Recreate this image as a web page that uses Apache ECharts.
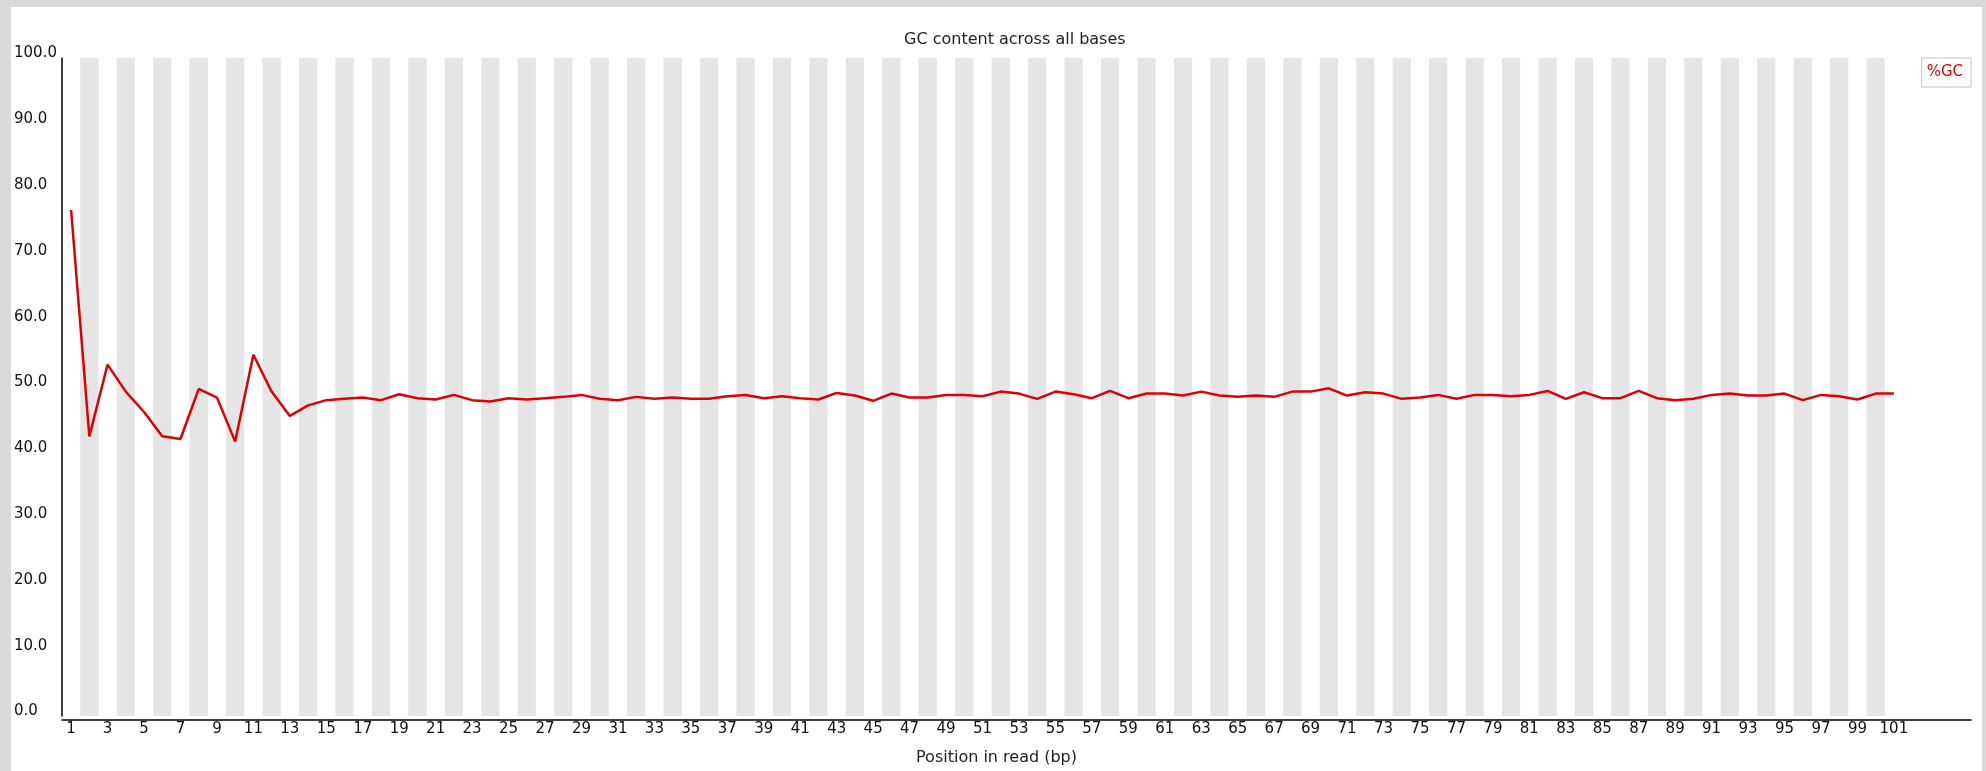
<!DOCTYPE html>
<html>
<head>
<meta charset="utf-8">
<script src="https://cdn.jsdelivr.net/npm/echarts@6/dist/echarts.min.js"></script>
<style>
html,body{margin:0;padding:0;background:#d9d9d9;width:1986px;height:771px;overflow:hidden;}
#chart{position:absolute;left:11px;top:7px;width:1971px;height:764px;background:#ffffff;}
</style>
</head>
<body>
<div id="chart"></div>
<script>
// ---- data ----
var titleText = 'GC content across all bases';
var xAxisName = 'Position in read (bp)';
var seriesName = '%GC';
var positions = Array.from({length: 101}, function (_, i) { return String(i + 1); });
var gcValues = [
  76.9, 42.5, 53.4, 49.3, 46.2, 42.5, 42.1, 49.7, 48.4, 41.7,
  54.9, 49.3, 45.6, 47.2, 48.0, 48.2, 48.4, 48.0, 48.9, 48.3,
  48.1, 48.8, 48.0, 47.8, 48.3, 48.1, 48.3, 48.5, 48.8, 48.2,
  48.0, 48.5, 48.2, 48.4, 48.2, 48.2, 48.6, 48.8, 48.3, 48.6,
  48.3, 48.1, 49.1, 48.7, 47.9, 49.0, 48.4, 48.4, 48.8, 48.8,
  48.6, 49.3, 49.0, 48.2, 49.3, 48.9, 48.3, 49.4, 48.3, 49.0,
  49.0, 48.7, 49.3, 48.7, 48.5, 48.7, 48.5, 49.3, 49.3, 49.8,
  48.7, 49.2, 49.0, 48.2, 48.4, 48.8, 48.2, 48.8, 48.8, 48.6,
  48.8, 49.4, 48.2, 49.2, 48.3, 48.3, 49.4, 48.3, 48.0, 48.2,
  48.8, 49.0, 48.7, 48.7, 49.0, 48.0, 48.8, 48.6, 48.1, 49.0,
  49.0
];
var yMin = 0, yMax = 100, yStep = 10;

// ---- chart ----
var chart = echarts.init(document.getElementById('chart'), null, {renderer: 'canvas'});
var FONT = 'DejaVu Sans';
chart.setOption({
  animation: false,
  backgroundColor: '#ffffff',
  title: {
    text: titleText,
    left: 893,
    top: 25,
    padding: 0,
    textStyle: {fontFamily: FONT, fontSize: 16, fontWeight: 'normal', color: '#222'}
  },
  legend: {
    data: [seriesName],
    right: 11,
    top: 51,
    icon: 'none',
    itemWidth: 0,
    itemHeight: 0,
    padding: [7, 8, 7, 0],
    borderColor: '#c4c4c4',
    borderWidth: 1,
    borderRadius: 0,
    textStyle: {fontFamily: FONT, fontSize: 15, color: '#e00000'}
  },
  grid: [
    {left: 51, right: 79, top: 51, bottom: 51, containLabel: false},
    {left: 51, right: 11, top: 51, bottom: 51, containLabel: false}
  ],
  xAxis: [
    {
      type: 'category',
      gridIndex: 0,
      data: positions,
      boundaryGap: true,
      axisLine: {show: false},
      axisTick: {show: false},
      axisLabel: {interval: 1, margin: 6, fontFamily: FONT, fontSize: 15, color: '#111'},
      splitLine: {show: false},
      splitArea: {show: true, interval: 0, areaStyle: {color: ['rgba(255,255,255,0)', '#e5e5e5']}},
      name: xAxisName,
      nameLocation: 'middle',
      nameGap: 34,
      nameTextStyle: {fontFamily: FONT, fontSize: 16, color: '#222', padding: [0, 0, 0, 28]}
    },
    {
      type: 'value',
      gridIndex: 1,
      min: 0,
      max: 1,
      axisLine: {show: true, lineStyle: {color: '#000', width: 1.5}},
      axisTick: {show: false},
      axisLabel: {show: false},
      splitLine: {show: false}
    }
  ],
  yAxis: [
    {
      type: 'value',
      gridIndex: 0,
      min: yMin,
      max: yMax,
      interval: yStep,
      axisLine: {show: true, lineStyle: {color: '#000', width: 1.5}},
      axisTick: {show: false},
      splitLine: {show: false},
      axisLabel: {
        align: 'left',
        verticalAlign: 'bottom',
        lineHeight: 9,
        margin: 48,
        fontFamily: FONT,
        fontSize: 15,
        color: '#111',
        formatter: function (v) { return v.toFixed(1); }
      }
    },
    {
      type: 'value',
      gridIndex: 1,
      show: false,
      min: 0,
      max: 1
    }
  ],
  series: [
    {
      name: seriesName,
      type: 'line',
      xAxisIndex: 0,
      yAxisIndex: 0,
      data: gcValues,
      showSymbol: false,
      symbol: 'none',
      lineStyle: {color: '#e00000', width: 2.5},
      itemStyle: {color: '#e00000'}
    }
  ]
});
</script>
</body>
</html>
